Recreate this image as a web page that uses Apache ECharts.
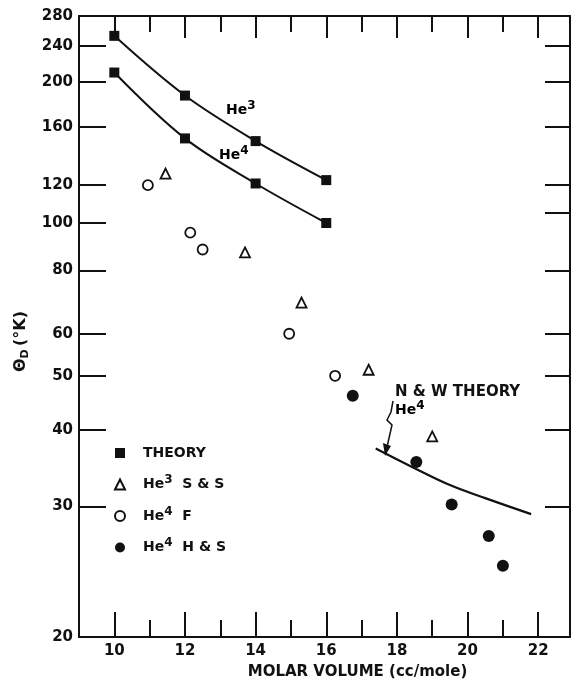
<!DOCTYPE html>
<html>
<head>
<meta charset="utf-8">
<script src="https://cdn.jsdelivr.net/npm/echarts@6/dist/echarts.min.js"></script>
<style>
	html, body { margin: 0; padding: 0; background: #fff; }
	#chart { width: 573px; height: 685px; }
</style>
</head>
<body>
<div id="chart"></div>
<script>
// tick values
var yTicks = [20, 30, 40, 50, 60, 80, 100, 120, 160, 200, 240, 280];
var yTicksRight = [30, 40, 50, 60, 80, 105, 120, 160, 200, 240];
var xMajor = [10, 12, 14, 16, 18, 20, 22];
var xMinor = [11, 13, 15, 17, 19, 21];

// theory curves (molar volume -> theta_D)
var theoryX = [10, 12, 14, 16];
var theoryHe3 = [253, 187, 149, 123];
var theoryHe4 = [210, 151, 121, 100];

// measured points [molar volume, theta_D]
var he3SS = [[11.45, 127], [13.7, 87], [15.3, 69], [17.2, 51.3], [19.0, 39]];
var he4F = [[10.95, 120], [12.15, 95.5], [12.5, 88.2], [14.95, 60], [16.25, 50]];
var he4HS = [[16.75, 46], [18.55, 35.3], [19.55, 30.2], [20.6, 27.1], [21.0, 24.6]];

// N & W theory, He4
var nwTheory = [[17.4, 37.2], [18.5, 34.5], [19.5, 32.4], [20.5, 30.9], [21.8, 29.2]];

var INK = '#111';
var FONT = 'DejaVu Sans';

// the paper's theta axis goes as log10(theta - 10)
function ty(v) {
	return Math.log10(v - 10);
}
function fromTy(t) {
	return Math.round(Math.pow(10, t) + 10);
}
function toPts(arr) {
	return arr.map(function(p) {
		return [p[0], ty(p[1])];
	});
}

var myChart = echarts.init(document.getElementById('chart'));

var labelStyle = {
	color: INK,
	fontFamily: FONT,
	fontWeight: 'bold',
	fontSize: 15
};
var supRich = {
	t: { color: INK, fontFamily: FONT, fontWeight: 'bold', fontSize: 14 },
	s: { color: INK, fontFamily: FONT, fontWeight: 'bold', fontSize: 12, padding: [0, 0, 9, 0] }
};

function tickAxis(pos, ticks, len, withLine) {
	return {
		type: 'value',
		position: pos,
		min: 9,
		max: 22.9,
		axisLine: { show: withLine, lineStyle: { color: INK, width: 2 } },
		axisTick: { inside: true, length: len, customValues: ticks, lineStyle: { color: INK, width: 2 } },
		axisLabel: { show: false },
		splitLine: { show: false }
	};
}

var xBottom = tickAxis('bottom', xMajor, 25, true);
xBottom.axisLabel = Object.assign({ show: true, margin: 7, customValues: xMajor }, labelStyle);
xBottom.name = 'MOLAR VOLUME (cc/mole)';
xBottom.nameLocation = 'middle';
xBottom.nameGap = 28;
xBottom.nameTextStyle = { color: INK, fontFamily: FONT, fontWeight: 'bold', fontSize: 15, padding: [0, 0, 0, 66] };

var yMin = ty(20), yMax = ty(280);

var option = {
	animation: false,
	backgroundColor: '#fff',
	grid: { left: 79, right: 3, top: 16, bottom: 46, containLabel: false },
	xAxis: [
		xBottom,
		tickAxis('bottom', xMinor, 17, false),
		tickAxis('top', xMajor, 22, true),
		tickAxis('top', xMinor, 16, false)
	],
	yAxis: [{
		type: 'value',
		position: 'left',
		min: yMin,
		max: yMax,
		axisLine: { show: true, lineStyle: { color: INK, width: 2 } },
		axisTick: { inside: true, length: 27, customValues: yTicks.map(ty), lineStyle: { color: INK, width: 2 } },
		axisLabel: Object.assign({
			margin: 6,
			customValues: yTicks.map(ty),
			formatter: function(v) { return fromTy(v); }
		}, labelStyle),
		splitLine: { show: false },
		name: '{t|Θ}{d|D} {t|(°K)}',
		nameLocation: 'middle',
		nameRotate: 90,
		nameGap: 46,
		nameTextStyle: {
			padding: [0, 30, 0, 0],
			rich: {
				t: { color: INK, fontFamily: FONT, fontWeight: 'bold', fontSize: 16 },
				d: { color: INK, fontFamily: FONT, fontWeight: 'bold', fontSize: 11, padding: [8, 0, 0, 0] }
			}
		}
	}, {
		type: 'value',
		position: 'right',
		min: yMin,
		max: yMax,
		axisLine: { show: true, lineStyle: { color: INK, width: 2 } },
		axisTick: { inside: true, length: 25, customValues: yTicksRight.map(ty), lineStyle: { color: INK, width: 2 } },
		axisLabel: { show: false },
		splitLine: { show: false }
	}],
	legend: {
		orient: 'vertical',
		left: 109,
		top: 441,
		itemWidth: 10,
		itemHeight: 10,
		itemGap: 14,
		textStyle: { color: INK, padding: [0, 0, 0, 13], rich: supRich },
		data: [
			{ name: 'THEORY', icon: 'rect' },
			{ name: 'He3 S&S', icon: 'triangle' },
			{ name: 'He4 F', icon: 'circle' },
			{ name: 'He4 H&S', icon: 'circle' }
		],
		formatter: function(name) {
			if (name === 'THEORY') return '{t|THEORY}';
			if (name === 'He3 S&S') return '{t|He}{s|3}{t|  S & S}';
			if (name === 'He4 F') return '{t|He}{s|4}{t|  F}';
			return '{t|He}{s|4}{t|  H & S}';
		}
	},
	series: [{
		name: 'THEORY',
		type: 'line',
		smooth: 0.35,
		data: toPts(theoryX.map(function(x, i) { return [x, theoryHe3[i]]; })),
		symbol: 'rect',
		symbolSize: 10,
		itemStyle: { color: INK },
		lineStyle: { color: INK, width: 2 }
	}, {
		name: 'THEORY',
		type: 'line',
		smooth: 0.35,
		data: toPts(theoryX.map(function(x, i) { return [x, theoryHe4[i]]; })),
		symbol: 'rect',
		symbolSize: 10,
		itemStyle: { color: INK },
		lineStyle: { color: INK, width: 2 }
	}, {
		name: 'N&W',
		type: 'line',
		smooth: 0.4,
		data: toPts(nwTheory),
		showSymbol: false,
		lineStyle: { color: INK, width: 2.2 }
	}, {
		name: 'He3 S&S',
		type: 'scatter',
		data: toPts(he3SS),
		symbol: 'triangle',
		symbolSize: 10,
		itemStyle: { color: '#fff', borderColor: INK, borderWidth: 1.8, opacity: 1 }
	}, {
		name: 'He4 F',
		type: 'scatter',
		data: toPts(he4F),
		symbol: 'circle',
		symbolSize: 10,
		itemStyle: { color: '#fff', borderColor: INK, borderWidth: 1.8, opacity: 1 }
	}, {
		name: 'He4 H&S',
		type: 'scatter',
		data: toPts(he4HS),
		symbol: 'circle',
		symbolSize: 12,
		itemStyle: { color: INK, opacity: 1 }
	}],
	graphic: [{
		type: 'text', left: 226, top: 100,
		style: { text: '{t|He}{s|3}', rich: supRich }
	}, {
		type: 'text', left: 219, top: 145,
		style: { text: '{t|He}{s|4}', rich: supRich }
	}, {
		type: 'text', left: 395, top: 385,
		style: { text: 'N & W THEORY', fill: INK, font: 'bold 15px "DejaVu Sans"' }
	}, {
		type: 'text', left: 395, top: 400,
		style: { text: '{t|He}{s|4}', rich: supRich }
	}, {
		type: 'polyline',
		shape: { points: [[393, 401], [391, 412], [387, 420], [392, 425], [387, 447]] },
		style: { stroke: INK, lineWidth: 1.5, fill: null }
	}, {
		type: 'polygon',
		shape: { points: [[383, 443], [391, 446], [385, 456]] },
		style: { fill: INK }
	}]
};

myChart.setOption(option);
</script>
</body>
</html>
